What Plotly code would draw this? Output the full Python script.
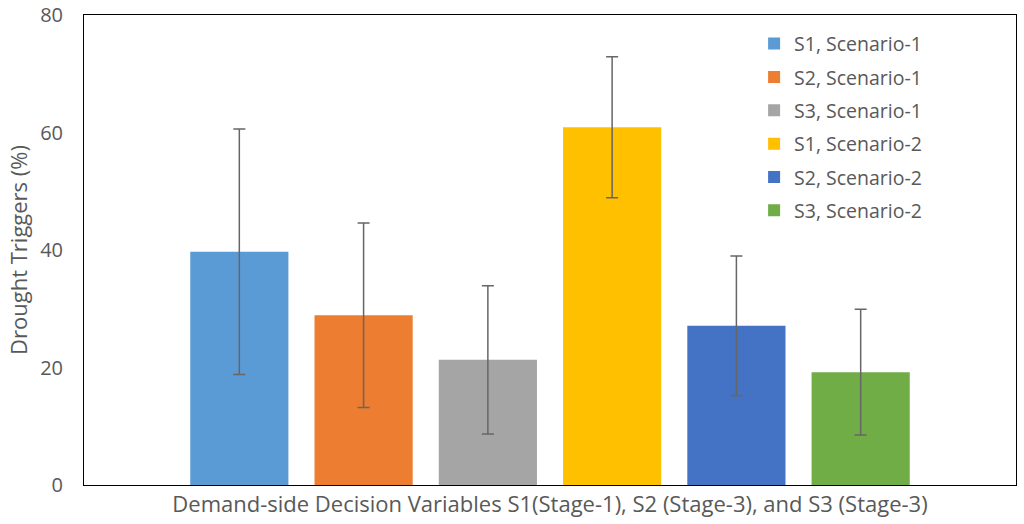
import plotly.graph_objects as go

category = "Demand-side Decision Variables S1(Stage-1), S2 (Stage-3), and S3 (Stage-3)"
series_names = ["S1, Scenario-1", "S2, Scenario-1", "S3, Scenario-1",
                "S1, Scenario-2", "S2, Scenario-2", "S3, Scenario-2"]
means = [39.7, 28.9, 21.3, 60.9, 27.1, 19.2]
errors = [20.9, 15.7, 12.6, 12.0, 11.9, 10.7]
colors = ["#5B9BD5", "#ED7D31", "#A5A5A5", "#FFC000", "#4472C4", "#70AD47"]

font_name = "Open Sans"
grey = "#595959"

fig = go.Figure()
for name, m, e, c in zip(series_names, means, errors, colors):
    fig.add_trace(go.Bar(
        x=[category], y=[m], name=name, legendgroup=name,
        marker=dict(color=c, line=dict(width=0)),
        error_y=dict(type="data", array=[e], visible=True,
                     color="#666666", thickness=1.5, width=6),
    ))

fig.update_layout(
    width=1024, height=524,
    margin=dict(l=84, r=8, t=15, b=39),
    paper_bgcolor="white", plot_bgcolor="white",
    barmode="group", bargap=0.2, bargroupgap=0.21,
    font=dict(family=font_name, color=grey, size=20),
    showlegend=True,
    legend=dict(x=0.719, y=0.98, xanchor="left", yanchor="top",
                bgcolor="rgba(0,0,0,0)", font=dict(size=19.5, color=grey),
                traceorder="grouped", tracegroupgap=5, itemwidth=30),
    xaxis=dict(showline=True, linecolor="black", linewidth=1, mirror=True,
               ticks="", automargin=False, tickfont=dict(size=22, color=grey)),
    yaxis=dict(range=[0, 80], dtick=20, showgrid=False, zeroline=False,
               showline=True, linecolor="black", linewidth=1, mirror=True,
               ticks="", automargin=False, ticklabelstandoff=16,
               tickfont=dict(size=20, color=grey),
               title=dict(text="Drought Triggers (%)", font=dict(size=22, color=grey),
                          standoff=6)),
)

# drop the browser's default 8px body margin so the figure sits at (0, 0)
fig.write_html("out.html", config={"displayModeBar": False},
               post_script="document.body.style.margin='0';")
